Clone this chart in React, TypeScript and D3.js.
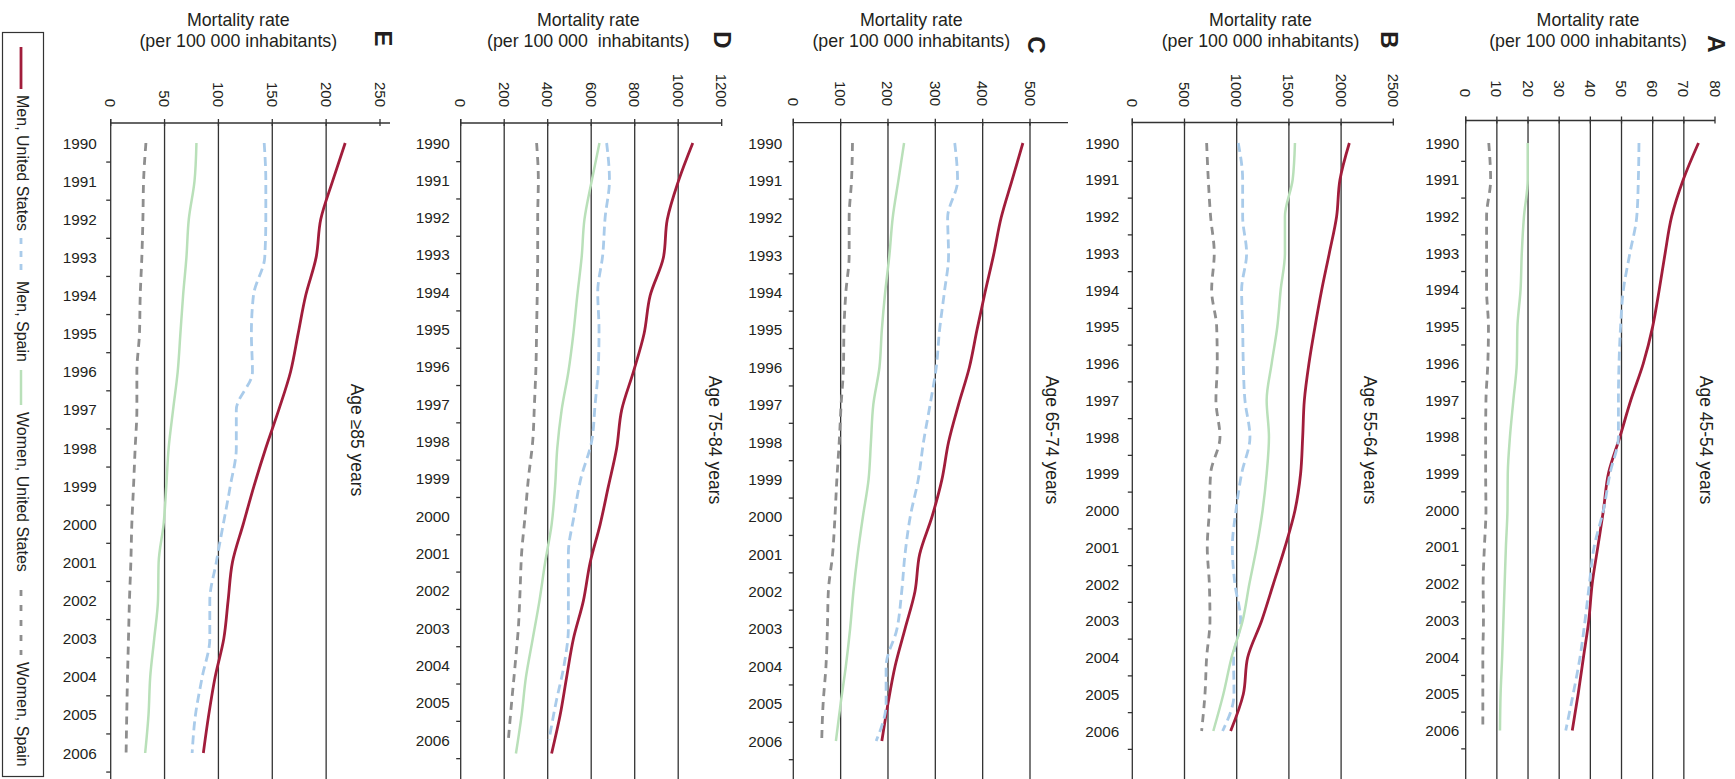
import React from "react";
import * as d3 from "d3";

// ---------- DATA ----------
const years = [1990, 1991, 1992, 1993, 1994, 1995, 1996, 1997, 1998, 1999, 2000, 2001, 2002, 2003, 2004, 2005, 2006];

const seriesNames = ["Men, United States", "Men, Spain", "Women, United States", "Women, Spain"];

// Panel A: Age 45-54
const menUS_A = [74.7, 69.8, 66.1, 64.0, 62.1, 60.0, 57.0, 53.0, 49.5, 45.8, 44.2, 42.4, 40.6, 39.5, 37.8, 36.1, 34.2];
const menSp_A = [55.6, 55.4, 54.9, 52.7, 50.6, 49.7, 49.2, 49.0, 49.0, 46.3, 44.2, 41.2, 39.7, 38.3, 36.7, 34.5, 32.1];
const womUS_A = [19.9, 19.9, 18.7, 18.0, 17.6, 16.6, 16.4, 15.3, 14.2, 13.5, 13.4, 12.9, 12.5, 12.1, 11.7, 11.2, 11.0];
const womSp_A = [7.4, 8.0, 6.7, 6.7, 6.7, 7.3, 7.1, 6.5, 6.4, 6.4, 6.5, 6.0, 5.6, 5.7, 5.5, 5.5, 5.5];

// Panel B: Age 55-64
const menUS_B = [2079, 1989, 1957, 1887, 1814, 1750, 1692, 1648, 1632, 1612, 1558, 1462, 1351, 1239, 1105, 1063, 942];
const menSp_B = [1015, 1057, 1057, 1095, 1047, 1057, 1063, 1079, 1127, 1047, 993, 958, 983, 1038, 970, 974, 865];
const womUS_B = [1558, 1536, 1462, 1462, 1421, 1389, 1335, 1287, 1309, 1287, 1248, 1191, 1121, 1057, 951, 872, 776];
const womSp_B = [712, 728, 750, 785, 760, 808, 814, 801, 840, 750, 738, 718, 738, 744, 712, 696, 664];

// Panel C: Age 65-74
const menUS_C = [485, 462, 439, 423, 405, 388, 372, 349, 328, 314, 293, 267, 257, 236, 215, 200, 187];
const menSp_C = [341, 347, 326, 328, 319, 309, 302, 289, 275, 264, 247, 236, 229, 219, 196, 196, 175];
const womUS_C = [234, 222, 210, 203, 194, 187, 182, 169, 164, 159, 147, 136, 127, 120, 111, 100, 90];
const womSp_C = [125, 123, 118, 118, 111, 107, 106, 101, 97, 92, 88, 83, 74, 72, 69, 63, 60];

// Panel D: Age 75-84
const menUS_D = [1067, 1001, 950, 932, 871, 843, 794, 740, 717, 679, 641, 595, 564, 518, 487, 457, 418];
const menSp_D = [671, 684, 664, 653, 630, 636, 633, 618, 602, 552, 521, 495, 495, 495, 475, 438, 406];
const womUS_D = [638, 602, 569, 556, 536, 518, 495, 464, 444, 434, 418, 388, 362, 331, 300, 280, 254];
const womSp_D = [349, 357, 354, 354, 352, 349, 346, 339, 331, 311, 296, 280, 273, 265, 250, 234, 219];

// Panel E: Age >=85
const menUS_E = [217.7, 206, 195, 190.7, 181, 174, 167, 156, 144, 133, 123, 113, 109, 105, 97, 91, 86];
const menSp_E = [142.5, 144, 144, 143, 132.5, 130.6, 131.6, 116.6, 116.6, 111, 104.5, 98, 92, 92, 85, 78.7, 75.6];
const womUS_E = [79.6, 77.8, 72.5, 70.3, 67.2, 64.7, 62.2, 57.9, 53.8, 51.6, 49.1, 44.5, 43.9, 40.4, 36.7, 35.1, 32];
const womSp_E = [32.7, 30.5, 29.9, 28.9, 27.4, 26.7, 24.3, 24.3, 22.7, 21.2, 19.6, 18.7, 17.4, 16.5, 15.6, 14.9, 14.3];

const ticks_A = [0, 10, 20, 30, 40, 50, 60, 70, 80];
const ticks_B = [0, 500, 1000, 1500, 2000, 2500];
const ticks_C = [0, 100, 200, 300, 400, 500];
const ticks_D = [0, 200, 400, 600, 800, 1000, 1200];
const ticks_E = [0, 50, 100, 150, 200, 250];

// ---------- STYLE / LAYOUT ----------
const FONT = "'Liberation Sans', Arial, Helvetica, sans-serif";
const TEXT = "#231f20";
const GRID = "#333333";
const H = 779;
const Y_FIRST = 143;

const styles = [
  { color: "#a11d3b", dash: "", width: 2.8 },
  { color: "#a9cbea", dash: "9,5", width: 2.8 },
  { color: "#b9e0b9", dash: "", width: 2.5 },
  { color: "#8e8e8e", dash: "8,6", width: 2.8 },
];

type PanelCfg = {
  letter: string;
  age: string;
  title2: string;
  data: number[][];
  ticks: number[];
  gridMax: number;
  x0: number;
  x1: number;
  axisEnd: number;
  axisY: number;
  yEnd: number[];
  yearGap: number;
  valEnd: number;
  titleX: number;
  letterX: number;
  letterY: number;
  ageX: number;
};

const panels: PanelCfg[] = [
  {
    letter: "A", age: "Age 45-54 years", title2: "(per 100 000 inhabitants)",
    data: [menUS_A, menSp_A, womUS_A, womSp_A], ticks: ticks_A, gridMax: 70,
    x0: 1465.7, x1: 1715, axisEnd: 1715, axisY: 120.5, yEnd: [730.5, 730.5, 730.5, 730.5],
    yearGap: 6.5, valEnd: 97, titleX: 1588, letterX: 1716, letterY: 44, ageX: 1706,
  },
  {
    letter: "B", age: "Age 55-64 years", title2: "(per 100 000 inhabitants)",
    data: [menUS_B, menSp_B, womUS_B, womSp_B], ticks: ticks_B, gridMax: 2000,
    x0: 1132.3, x1: 1393.3, axisEnd: 1393.3, axisY: 122.5, yEnd: [731, 731, 731, 731],
    yearGap: 13, valEnd: 107, titleX: 1260.5, letterX: 1389, letterY: 40, ageX: 1370,
  },
  {
    letter: "C", age: "Age 65-74 years", title2: "(per 100 000 inhabitants)",
    data: [menUS_C, menSp_C, womUS_C, womSp_C], ticks: ticks_C, gridMax: 500,
    x0: 793.3, x1: 1030, axisEnd: 1068, axisY: 122.7, yEnd: [741, 741, 741, 741],
    yearGap: 11, valEnd: 106, titleX: 911.3, letterX: 1036.7, letterY: 45, ageX: 1052,
  },
  {
    letter: "D", age: "Age 75-84 years", title2: "(per 100 000  inhabitants)",
    data: [menUS_D, menSp_D, womUS_D, womSp_D], ticks: ticks_D, gridMax: 1000,
    x0: 460.7, x1: 721.7, axisEnd: 721.7, axisY: 123, yEnd: [753.5, 740, 753.5, 740],
    yearGap: 11, valEnd: 107, titleX: 588.3, letterX: 722, letterY: 40, ageX: 715,
  },
  {
    letter: "E", age: "Age \u226585 years", title2: "(per 100 000 inhabitants)",
    data: [menUS_E, menSp_E, womUS_E, womSp_E], ticks: ticks_E, gridMax: 200,
    x0: 110.7, x1: 380, axisEnd: 390, axisY: 123, yEnd: [753, 753, 753, 753],
    yearGap: 14, valEnd: 107, titleX: 238.3, letterX: 383, letterY: 38.5, ageX: 357,
  },
];

function Panel({ p }: { p: PanelCfg }) {
  const max = p.ticks[p.ticks.length - 1];
  const xs = d3.scaleLinear().domain([0, max]).range([p.x0, p.x1]);
  const yAxisScale = d3.scalePoint<number>().domain(years).range([Y_FIRST, p.yEnd[1]]);
  const step = yAxisScale.step();
  const yearTicks = years.map((yr) => (yAxisScale(yr) as number) + step / 2);
  const grid = p.ticks.filter((v) => v > 0 && v <= p.gridMax);

  return (
    <g>
      <text x={p.titleX} y={25.5} textAnchor="middle" fontSize={17.8} fill={TEXT} fontFamily={FONT}>
        Mortality rate
      </text>
      <text x={p.titleX} y={46.5} textAnchor="middle" fontSize={17.8} fill={TEXT} fontFamily={FONT} style={{ whiteSpace: "pre" }}>
        {p.title2}
      </text>
      <text
        transform={`translate(${p.letterX},${p.letterY}) rotate(90)`}
        textAnchor="middle"
        dominantBaseline="central"
        fontSize={24}
        fontWeight="bold"
        fill={TEXT}
        fontFamily={FONT}
      >
        {p.letter}
      </text>
      <text
        transform={`translate(${p.ageX},440) rotate(90)`}
        textAnchor="middle"
        dominantBaseline="central"
        fontSize={17.5}
        fill={TEXT}
        fontFamily={FONT}
      >
        {p.age}
      </text>
      {grid.map((v) => (
        <line key={"g" + v} x1={xs(v)} x2={xs(v)} y1={p.axisY} y2={H} stroke={GRID} strokeWidth={1.3} />
      ))}
      <line x1={p.x0} x2={p.axisEnd} y1={p.axisY} y2={p.axisY} stroke={GRID} strokeWidth={1.3} />
      {p.ticks.map((v) => (
        <g key={"t" + v}>
          <line x1={xs(v)} x2={xs(v)} y1={p.axisY - 4} y2={p.axisY + 3} stroke={GRID} strokeWidth={1.3} />
          <text
            transform={`translate(${xs(v)},${p.valEnd}) rotate(90)`}
            textAnchor="end"
            dominantBaseline="central"
            fontSize={15}
            fill={TEXT}
            fontFamily={FONT}
          >
            {v}
          </text>
        </g>
      ))}
      <line x1={p.x0} x2={p.x0} y1={p.axisY - 4} y2={H} stroke={GRID} strokeWidth={1.3} />
      {yearTicks.map((ty, i) => (
        <line key={"yt" + i} x1={p.x0 - 4.5} x2={p.x0} y1={ty} y2={ty} stroke={GRID} strokeWidth={1.3} />
      ))}
      {years.map((yr) => (
        <text
          key={"yl" + yr}
          x={p.x0 - p.yearGap}
          y={yAxisScale(yr) as number}
          textAnchor="end"
          dominantBaseline="central"
          fontSize={15.3}
          fill={TEXT}
          fontFamily={FONT}
        >
          {yr}
        </text>
      ))}
      {p.data.map((vals, si) => {
        const ys = d3.scalePoint<number>().domain(years).range([Y_FIRST, p.yEnd[si]]);
        const line = d3
          .line<number>()
          .x((v) => xs(v))
          .y((_, i) => ys(years[i]) as number)
          .curve(d3.curveMonotoneY);
        const st = styles[si];
        return (
          <path
            key={"s" + si}
            d={line(vals) || ""}
            fill="none"
            stroke={st.color}
            strokeWidth={st.width}
            strokeDasharray={st.dash || undefined}
          />
        );
      })}
    </g>
  );
}

const legendItems = [
  { l0: 47, l1: 89, t: 95 },
  { l0: 238, l1: 273, t: 281 },
  { l0: 370, l1: 405, t: 412 },
  { l0: 590, l1: 655, t: 662 },
];

function Legend() {
  return (
    <g>
      <rect x={2.5} y={32.5} width={41} height={744} fill="none" stroke="#333" strokeWidth={1.2} />
      {legendItems.map((it, i) => {
        const st = styles[i];
        return (
          <g key={i}>
            <line
              x1={21}
              x2={21}
              y1={it.l0}
              y2={it.l1}
              stroke={st.color}
              strokeWidth={st.width}
              strokeDasharray={st.dash ? (i === 1 ? "6,7" : "6,9") : undefined}
            />
            <text
              transform={`translate(22.5,${it.t}) rotate(90)`}
              textAnchor="start"
              dominantBaseline="central"
              fontSize={16}
              fill={TEXT}
              fontFamily={FONT}
            >
              {seriesNames[i]}
            </text>
          </g>
        );
      })}
    </g>
  );
}

export default function App() {
  return (
    <svg
      width={1735}
      height={779}
      viewBox="0 0 1735 779"
      style={{ position: "absolute", left: 0, top: 0, background: "#fff" }}
    >
      <rect x={0} y={0} width={1735} height={779} fill="#fff" />
      {panels.map((p) => (
        <Panel key={p.letter} p={p} />
      ))}
      <Legend />
    </svg>
  );
}
